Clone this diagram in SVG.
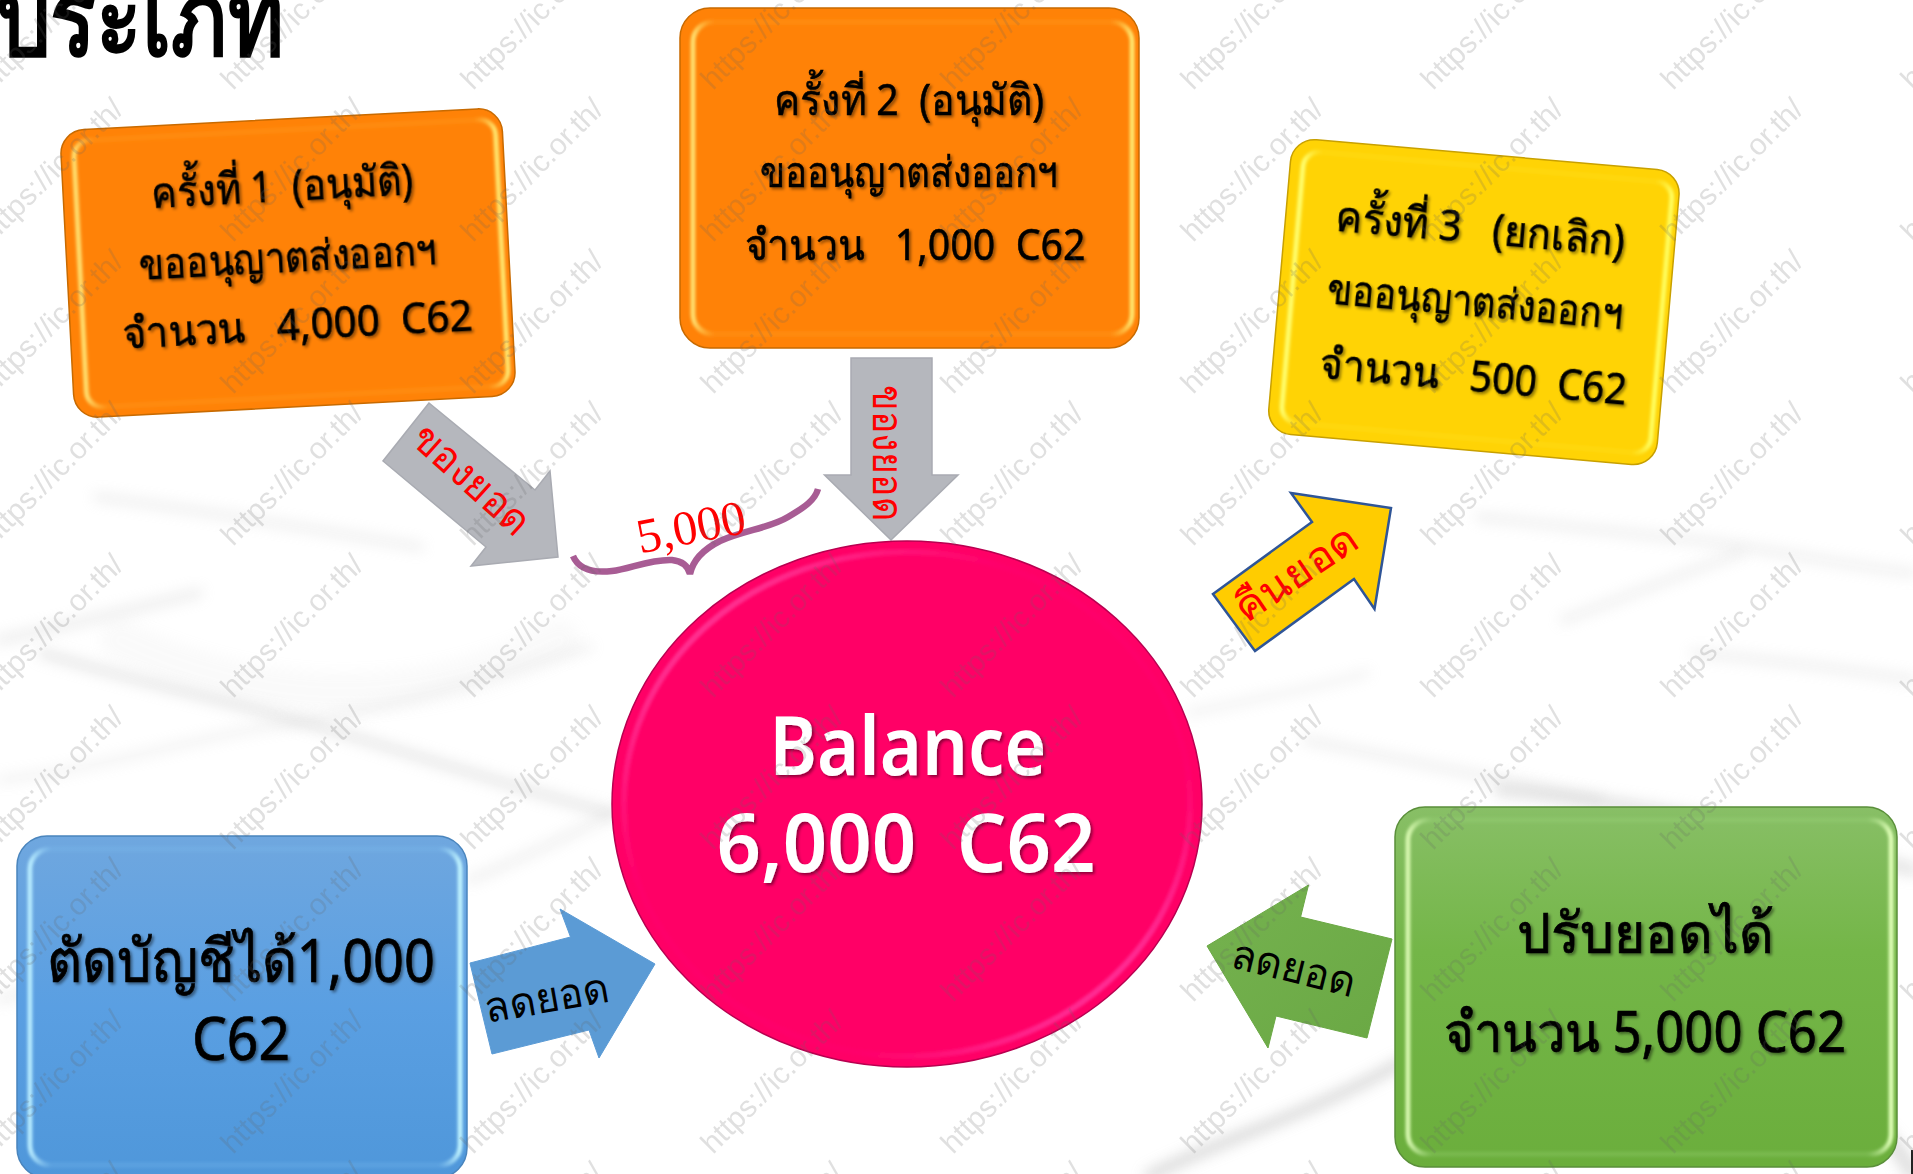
<svg xmlns="http://www.w3.org/2000/svg" width="1913" height="1174" viewBox="0 0 1913 1174"><style>
.t{font-family:"Noto Sans","DejaVu Sans",sans-serif;text-anchor:middle;fill:#000;font-weight:400}
.box{font-size:43px;stroke:#000;stroke-width:.5}
.big{font-size:60px;stroke:#000;stroke-width:.7}
.tag{font-size:42px}
.red{fill:#f00}
.wm{font-family:"Liberation Sans",Arial,sans-serif;font-size:30px;fill:#666;opacity:.2}
.streak{fill:none;stroke:#c4c4c4;stroke-linecap:round;filter:url(#soft);opacity:.3}
.hl{fill:none;stroke-width:5;filter:url(#tiny)}
</style><defs><filter id="soft" x="-20%" y="-100%" width="140%" height="300%"><feGaussianBlur stdDeviation="7"/></filter><filter id="tiny" x="-5%" y="-5%" width="110%" height="110%"><feGaussianBlur stdDeviation="1.5"/></filter><filter id="sh" x="-10%" y="-20%" width="120%" height="140%"><feDropShadow dx="2" dy="2" stdDeviation="1.4" flood-color="#000" flood-opacity=".45"/></filter><linearGradient id="hlO"><stop offset="0" stop-color="#ffe070"/><stop offset=".05" stop-color="#ffa020" stop-opacity=".3"/><stop offset=".95" stop-color="#ffa020" stop-opacity=".3"/><stop offset="1" stop-color="#ffe870"/></linearGradient><linearGradient id="hlY"><stop offset="0" stop-color="#ffff70"/><stop offset=".05" stop-color="#ffe020" stop-opacity=".3"/><stop offset=".95" stop-color="#ffe020" stop-opacity=".3"/><stop offset="1" stop-color="#ffff60"/></linearGradient><linearGradient id="hlB"><stop offset="0" stop-color="#b8ecff"/><stop offset=".05" stop-color="#80c0f0" stop-opacity=".25"/><stop offset=".95" stop-color="#80c0f0" stop-opacity=".25"/><stop offset="1" stop-color="#c0f4ff"/></linearGradient><linearGradient id="hlG"><stop offset="0" stop-color="#d8f8b0"/><stop offset=".05" stop-color="#a0d880" stop-opacity=".25"/><stop offset=".95" stop-color="#a0d880" stop-opacity=".25"/><stop offset="1" stop-color="#e0ffb8"/></linearGradient><linearGradient id="fB" x2="0" y2="1"><stop offset="0" stop-color="#6fa7df"/><stop offset=".5" stop-color="#5a9fe2"/><stop offset="1" stop-color="#4f97da"/></linearGradient><linearGradient id="fG" x2="0" y2="1"><stop offset="0" stop-color="#88bf66"/><stop offset=".4" stop-color="#74b648"/><stop offset="1" stop-color="#6bae3c"/></linearGradient><linearGradient id="hlC" x1="0" y1="0" x2="1" y2="1"><stop offset="0" stop-color="#ff70c0"/><stop offset=".35" stop-color="#ff1080" stop-opacity=".15"/><stop offset=".7" stop-color="#ff1080" stop-opacity=".15"/><stop offset="1" stop-color="#ff80e0"/></linearGradient><linearGradient id="fGA" x1="0" y1="0" x2="1" y2="1"><stop offset="0" stop-color="#75b24f"/><stop offset="1" stop-color="#6aa844"/></linearGradient></defs><rect width="1913" height="1174" fill="#fff"/><g id="backdrop"><path class="streak" stroke-width="40" style="opacity:.08" d="M120 640C250 700 400 720 560 640"/><path class="streak" stroke-width="8" style="opacity:.5" d="M42 653C130 680 220 700 295 720S520 790 610 813"/><path class="streak" stroke-width="6" d="M0 780C100 770 200 735 295 723S500 670 590 647"/><path class="streak" stroke-width="10" d="M0 640C70 625 130 610 198 593"/><path class="streak" stroke-width="8" d="M97 497C200 510 320 530 420 547"/><path class="streak" stroke-width="10" style="opacity:.7" d="M1149 1176C1220 1140 1320 1110 1400 1063"/><path class="streak" stroke-width="8" d="M1479 517C1560 525 1640 535 1694 540S1840 565 1913 573"/><path class="streak" stroke-width="8" d="M1563 620C1620 600 1690 570 1741 553"/><path class="streak" stroke-width="8" d="M1694 653C1770 660 1850 670 1913 680"/><path class="streak" stroke-width="8" d="M1306 740C1400 760 1500 780 1600 800"/><path class="streak" stroke-width="6" d="M1189 713C1250 700 1310 690 1367 673"/><path class="streak" stroke-width="12" style="opacity:.5" d="M1500 790C1620 800 1780 830 1913 870"/><path class="streak" stroke-width="14" style="opacity:.6" d="M1880 1130Q1900 1150 1913 1174"/><path class="streak" stroke-width="8" d="M470 880C520 860 580 830 660 790"/><path class="streak" stroke-width="8" d="M0 1000C60 980 120 960 200 930"/></g><text id="title" x="-4" y="55" font-family="Noto Sans,DejaVu Sans,sans-serif" font-size="104" font-weight="700" fill="#000" textLength="288" lengthAdjust="spacingAndGlyphs">ประเภท</text><g id="connectors"><g id="arrow-hold-1"><polygon points="429,403 383,461 486,547 471,566 558,557 550,471 535,490" fill="#b5b7bd" stroke="#a9abb2" stroke-width="1.5"/><text class="t tag red" transform="translate(462 490) rotate(42)" textLength="143" lengthAdjust="spacingAndGlyphs">ของยอด</text></g><g id="arrow-hold-2"><polygon points="851,358 932,358 932,475 958,475 891,540 824.5,475 851,475" fill="#b5b7bd" stroke="#a9abb2" stroke-width="1.5"/><text class="t tag red" transform="translate(873 453) rotate(90)" textLength="136" lengthAdjust="spacingAndGlyphs">ของยอด</text></g><g id="arrow-return"><polygon points="1291,493 1391,508 1374.5,609 1354,579 1255,651 1213,594 1312,522" fill="#ffcc00" stroke="#2f5597" stroke-width="2.5"/><text class="t tag red" transform="translate(1304 585) rotate(-34)" textLength="139" lengthAdjust="spacingAndGlyphs">คืนยอด</text></g><g id="arrow-cut"><polygon points="470,963 570.5,937 560,909 655,964 599,1058 589,1030 492,1054" fill="#5b9bd5" stroke="#5b9bd5"/><text class="t tag" transform="translate(549 1012) rotate(-10)" textLength="126" lengthAdjust="spacingAndGlyphs">ลดยอด</text></g><g id="arrow-adjust"><polygon points="1207,946 1308.5,885 1300.6,917 1392,939 1367,1038 1276,1016 1268,1048" fill="url(#fGA)" stroke="#6aa844"/><text class="t tag" transform="translate(1290 982) rotate(14)" textLength="126" lengthAdjust="spacingAndGlyphs">ลดยอด</text></g></g><g id="sum-brace"><path d="M573 556C579 570 595 573 612 571C630 569 650 559 672 560C682 561 688 566 690 574C693 560 704 549 720 541C745 530 770 528 788 517C805 507 815 500 818 489" fill="none" stroke="#a85c94" stroke-width="6.5"/><text transform="translate(694 543) rotate(-11)" font-family="Liberation Serif,serif" font-size="49" fill="#f00" text-anchor="middle">5,000</text></g><g id="node-1" transform="rotate(-3 288 263)"><rect x="67" y="119" width="442" height="288" rx="24" fill="#ff8207" stroke="#c86a00" stroke-width="1.5"/><rect x="80" y="130" width="422" height="267" rx="16" class="hl" stroke="url(#hlO)"/><g class="t box" filter="url(#sh)"><text x="286" y="201" textLength="262" lengthAdjust="spacingAndGlyphs">ครั้งที่ 1 &#160;(อนุมัติ)</text><text x="288" y="272" textLength="297" lengthAdjust="spacingAndGlyphs">ขออนุญาตส่งออกฯ</text><text x="294" y="340" textLength="351" lengthAdjust="spacingAndGlyphs">จำนวน &#160;&#160;4,000 &#160;C62</text></g></g><g id="node-2"><rect x="680" y="8" width="459" height="340" rx="30" fill="#ff8207" stroke="#c86a00" stroke-width="1.5"/><rect x="693" y="22" width="439" height="312" rx="20" class="hl" stroke="url(#hlO)"/><g class="t box" filter="url(#sh)"><text x="909" y="115" textLength="270" lengthAdjust="spacingAndGlyphs">ครั้งที่ 2 &#160;(อนุมัติ)</text><text x="909" y="187" textLength="298" lengthAdjust="spacingAndGlyphs">ขออนุญาตส่งออกฯ</text><text x="915" y="260" textLength="341" lengthAdjust="spacingAndGlyphs">จำนวน &#160;&#160;1,000 &#160;C62</text></g></g><g id="node-3" transform="rotate(5 1473 301)"><rect x="1279" y="154" width="390" height="296" rx="24" fill="#ffd305" stroke="#c8a000" stroke-width="1.5"/><rect x="1292" y="166" width="370" height="272" rx="16" class="hl" stroke="url(#hlY)"/><g class="t box" filter="url(#sh)"><text x="1474" y="243" textLength="290" lengthAdjust="spacingAndGlyphs">ครั้งที่ 3 &#160;&#160;(ยกเลิก)</text><text x="1475" y="316" textLength="296" lengthAdjust="spacingAndGlyphs">ขออนุญาตส่งออกฯ</text><text x="1480" y="391" textLength="308" lengthAdjust="spacingAndGlyphs">จำนวน &#160;&#160;500 &#160;C62</text></g></g><g id="node-4"><rect x="17" y="836" width="450" height="342" rx="30" fill="url(#fB)" stroke="#4a85bd" stroke-width="1.5"/><rect x="30" y="849" width="430" height="316" rx="20" class="hl" stroke="url(#hlB)"/><g class="t big" filter="url(#sh)"><text x="241" y="982" textLength="388" lengthAdjust="spacingAndGlyphs">ตัดบัญชีได้1,000</text><text x="241" y="1060" textLength="98" lengthAdjust="spacingAndGlyphs">C62</text></g></g><g id="node-5"><rect x="1395" y="807" width="502" height="360" rx="30" fill="url(#fG)" stroke="#5a8f3a" stroke-width="1.5"/><rect x="1408" y="820" width="483" height="334" rx="20" class="hl" stroke="url(#hlG)"/><g class="t big" filter="url(#sh)" style="font-size:56px"><text x="1645" y="953" textLength="257" lengthAdjust="spacingAndGlyphs">ปรับยอดได้</text><text x="1645" y="1052" textLength="402" lengthAdjust="spacingAndGlyphs">จำนวน 5,000 C62</text></g></g><g id="node-balance"><ellipse cx="907" cy="804" rx="295" ry="263" fill="#ff0066" stroke="#b80050" stroke-width="1.5"/><ellipse cx="907" cy="804" rx="283" ry="252" fill="none" stroke="url(#hlC)" stroke-width="6" filter="url(#tiny)"/><g class="t" style="font-size:82px;font-weight:600" filter="url(#sh)"><text x="908" y="775" style="fill:#fff" textLength="277" lengthAdjust="spacingAndGlyphs">Balance</text><text x="906" y="872" style="fill:#fff" textLength="379" lengthAdjust="spacingAndGlyphs">6,000 &#160;C62</text></g></g><rect x="1911" y="1150" width="2" height="24" fill="#222"/><g id="watermarks" class="wm"><text transform="translate(-7 91) rotate(-45)">https://ic.or.th/</text><text transform="translate(233 91) rotate(-45)">https://ic.or.th/</text><text transform="translate(473 91) rotate(-45)">https://ic.or.th/</text><text transform="translate(713 91) rotate(-45)">https://ic.or.th/</text><text transform="translate(953 91) rotate(-45)">https://ic.or.th/</text><text transform="translate(1193 91) rotate(-45)">https://ic.or.th/</text><text transform="translate(1433 91) rotate(-45)">https://ic.or.th/</text><text transform="translate(1673 91) rotate(-45)">https://ic.or.th/</text><text transform="translate(1913 91) rotate(-45)">https://ic.or.th/</text><text transform="translate(-7 243) rotate(-45)">https://ic.or.th/</text><text transform="translate(233 243) rotate(-45)">https://ic.or.th/</text><text transform="translate(473 243) rotate(-45)">https://ic.or.th/</text><text transform="translate(713 243) rotate(-45)">https://ic.or.th/</text><text transform="translate(953 243) rotate(-45)">https://ic.or.th/</text><text transform="translate(1193 243) rotate(-45)">https://ic.or.th/</text><text transform="translate(1433 243) rotate(-45)">https://ic.or.th/</text><text transform="translate(1673 243) rotate(-45)">https://ic.or.th/</text><text transform="translate(1913 243) rotate(-45)">https://ic.or.th/</text><text transform="translate(-7 395) rotate(-45)">https://ic.or.th/</text><text transform="translate(233 395) rotate(-45)">https://ic.or.th/</text><text transform="translate(473 395) rotate(-45)">https://ic.or.th/</text><text transform="translate(713 395) rotate(-45)">https://ic.or.th/</text><text transform="translate(953 395) rotate(-45)">https://ic.or.th/</text><text transform="translate(1193 395) rotate(-45)">https://ic.or.th/</text><text transform="translate(1433 395) rotate(-45)">https://ic.or.th/</text><text transform="translate(1673 395) rotate(-45)">https://ic.or.th/</text><text transform="translate(1913 395) rotate(-45)">https://ic.or.th/</text><text transform="translate(-7 547) rotate(-45)">https://ic.or.th/</text><text transform="translate(233 547) rotate(-45)">https://ic.or.th/</text><text transform="translate(473 547) rotate(-45)">https://ic.or.th/</text><text transform="translate(713 547) rotate(-45)">https://ic.or.th/</text><text transform="translate(953 547) rotate(-45)">https://ic.or.th/</text><text transform="translate(1193 547) rotate(-45)">https://ic.or.th/</text><text transform="translate(1433 547) rotate(-45)">https://ic.or.th/</text><text transform="translate(1673 547) rotate(-45)">https://ic.or.th/</text><text transform="translate(1913 547) rotate(-45)">https://ic.or.th/</text><text transform="translate(-7 699) rotate(-45)">https://ic.or.th/</text><text transform="translate(233 699) rotate(-45)">https://ic.or.th/</text><text transform="translate(473 699) rotate(-45)">https://ic.or.th/</text><text transform="translate(713 699) rotate(-45)">https://ic.or.th/</text><text transform="translate(953 699) rotate(-45)">https://ic.or.th/</text><text transform="translate(1193 699) rotate(-45)">https://ic.or.th/</text><text transform="translate(1433 699) rotate(-45)">https://ic.or.th/</text><text transform="translate(1673 699) rotate(-45)">https://ic.or.th/</text><text transform="translate(1913 699) rotate(-45)">https://ic.or.th/</text><text transform="translate(-7 851) rotate(-45)">https://ic.or.th/</text><text transform="translate(233 851) rotate(-45)">https://ic.or.th/</text><text transform="translate(473 851) rotate(-45)">https://ic.or.th/</text><text transform="translate(713 851) rotate(-45)">https://ic.or.th/</text><text transform="translate(953 851) rotate(-45)">https://ic.or.th/</text><text transform="translate(1193 851) rotate(-45)">https://ic.or.th/</text><text transform="translate(1433 851) rotate(-45)">https://ic.or.th/</text><text transform="translate(1673 851) rotate(-45)">https://ic.or.th/</text><text transform="translate(1913 851) rotate(-45)">https://ic.or.th/</text><text transform="translate(-7 1003) rotate(-45)">https://ic.or.th/</text><text transform="translate(233 1003) rotate(-45)">https://ic.or.th/</text><text transform="translate(473 1003) rotate(-45)">https://ic.or.th/</text><text transform="translate(713 1003) rotate(-45)">https://ic.or.th/</text><text transform="translate(953 1003) rotate(-45)">https://ic.or.th/</text><text transform="translate(1193 1003) rotate(-45)">https://ic.or.th/</text><text transform="translate(1433 1003) rotate(-45)">https://ic.or.th/</text><text transform="translate(1673 1003) rotate(-45)">https://ic.or.th/</text><text transform="translate(1913 1003) rotate(-45)">https://ic.or.th/</text><text transform="translate(-7 1155) rotate(-45)">https://ic.or.th/</text><text transform="translate(233 1155) rotate(-45)">https://ic.or.th/</text><text transform="translate(473 1155) rotate(-45)">https://ic.or.th/</text><text transform="translate(713 1155) rotate(-45)">https://ic.or.th/</text><text transform="translate(953 1155) rotate(-45)">https://ic.or.th/</text><text transform="translate(1193 1155) rotate(-45)">https://ic.or.th/</text><text transform="translate(1433 1155) rotate(-45)">https://ic.or.th/</text><text transform="translate(1673 1155) rotate(-45)">https://ic.or.th/</text><text transform="translate(1913 1155) rotate(-45)">https://ic.or.th/</text><text transform="translate(-7 1307) rotate(-45)">https://ic.or.th/</text><text transform="translate(233 1307) rotate(-45)">https://ic.or.th/</text><text transform="translate(473 1307) rotate(-45)">https://ic.or.th/</text><text transform="translate(713 1307) rotate(-45)">https://ic.or.th/</text><text transform="translate(953 1307) rotate(-45)">https://ic.or.th/</text><text transform="translate(1193 1307) rotate(-45)">https://ic.or.th/</text><text transform="translate(1433 1307) rotate(-45)">https://ic.or.th/</text><text transform="translate(1673 1307) rotate(-45)">https://ic.or.th/</text><text transform="translate(1913 1307) rotate(-45)">https://ic.or.th/</text></g></svg>
